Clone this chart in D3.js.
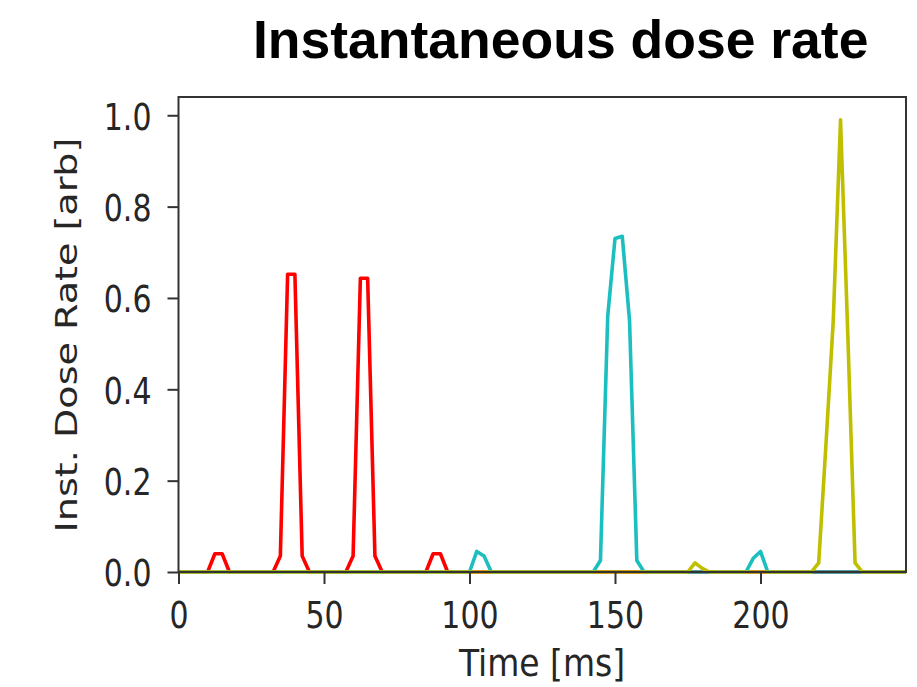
<!DOCTYPE html>
<html>
<head>
<meta charset="utf-8">
<title>Instantaneous dose rate</title>
<script src="https://cdn.jsdelivr.net/npm/d3@7"></script>
<style>
  body { margin: 0; background: white; }
  svg { display: block; }
  .tick text { font-family: "DejaVu Sans", sans-serif; fill: #262626; }
  .tick line { stroke: #333; stroke-width: 2; }
  .domain { display: none; }
</style>
</head>
<body>
<div id="chart"></div>
<script>
// values (time in ms, dose in arb. units)
var redTime  = [0, 10, 12.5, 15, 17.5, 32.5, 35, 37.5, 40, 42.5, 45, 57.5, 60, 62.5, 65, 67.5, 70, 85, 87.5, 90, 92.5, 250];
var redDose  = [0, 0, 0.04, 0.04, 0, 0, 0.035, 0.652, 0.652, 0.035, 0, 0, 0.035, 0.643, 0.643, 0.035, 0, 0, 0.04, 0.04, 0, 0];

var cyanTime = [0, 100, 102.5, 105, 107.5, 142.5, 145, 147.5, 150, 152.5, 155, 157.5, 160, 195, 197.5, 200, 202.5, 250];
var cyanDose = [0, 0, 0.045, 0.035, 0, 0, 0.025, 0.56, 0.73, 0.735, 0.55, 0.025, 0, 0, 0.03, 0.045, 0, 0];

var yellowTime = [0, 175, 177.5, 180, 182.5, 217.5, 220, 222.5, 225, 227.5, 230, 232.5, 235, 250];
var yellowDose = [0, 0, 0.02, 0.008, 0, 0, 0.02, 0.28, 0.55, 0.99, 0.52, 0.02, 0, 0];

var xTicks = [0, 50, 100, 150, 200];
var yTicks = [0, 0.2, 0.4, 0.6, 0.8, 1.0];

function draw() {
  var W = 917, H = 687;
  var pLeft = 178.5, pRight = 906, pTop = 97, pBottom = 572;
  var stretch = 1.27;   // the source picture is squashed sideways

  var svg = d3.select('#chart').append('svg')
      .attr('width', W)
      .attr('height', H);

  var x = d3.scaleLinear().domain([0, 250]).range([pLeft, pRight]);
  var y = d3.scaleLinear().domain([0, 1.04]).range([pBottom, pTop]);

  svg.append('text')
      .attr('x', 253)
      .attr('y', 58)
      .style('font-family', '"Liberation Sans", Arial, sans-serif')
      .style('font-weight', 'bold')
      .style('font-size', '53.5px')
      .style('fill', '#000')
      .text('Instantaneous dose rate');

  svg.append('clipPath').attr('id', 'plot')
    .append('rect')
      .attr('x', pLeft).attr('y', pTop - 2)
      .attr('width', pRight - pLeft).attr('height', pBottom - pTop + 4);

  var line = d3.line()
      .x(function(d) { return x(d[0]); })
      .y(function(d) { return y(d[1]); });

  var series = [
    { t: redTime, v: redDose, color: '#ff0000' },
    { t: cyanTime, v: cyanDose, color: '#1cbfbf' },
    { t: yellowTime, v: yellowDose, color: '#bfbf00' }
  ];

  svg.append('g').attr('clip-path', 'url(#plot)')
    .selectAll('path')
    .data(series)
    .enter().append('path')
      .attr('d', function(s) { return line(d3.zip(s.t, s.v)); })
      .attr('fill', 'none')
      .attr('stroke', function(s) { return s.color; })
      .attr('stroke-width', 3.6)
      .attr('stroke-linejoin', 'round');

  // frame
  svg.append('rect')
      .attr('x', pLeft).attr('y', pTop)
      .attr('width', pRight - pLeft).attr('height', pBottom - pTop)
      .attr('fill', 'none')
      .attr('stroke', '#333')
      .attr('stroke-width', 2);

  var yAxis = svg.append('g')
      .attr('transform', 'translate(' + pLeft + ',0)')
      .call(d3.axisLeft(y).tickValues(yTicks).tickSize(11).tickPadding(16).tickFormat(d3.format('.1f')));
  yAxis.selectAll('.tick text')
      .style('font-size', '30px')
      .attr('dy', '0.36em')
      .attr('transform', 'scale(1,' + stretch + ')');

  var xAxis = svg.append('g')
      .attr('transform', 'translate(0,' + pBottom + ')')
      .call(d3.axisBottom(x).tickValues(xTicks).tickSize(12).tickFormat(d3.format('d')));
  xAxis.selectAll('.tick text')
      .style('font-size', '30px')
      .attr('y', 56 / stretch)
      .attr('dy', 0)
      .attr('transform', 'scale(1,' + stretch + ')');

  svg.append('text')
      .attr('transform', 'translate(542,676) scale(1,1.12)')
      .attr('text-anchor', 'middle')
      .style('font-family', '"DejaVu Sans", sans-serif')
      .style('font-size', '33px')
      .style('fill', '#262626')
      .text('Time [ms]');

  svg.append('text')
      .attr('transform', 'translate(77,335) rotate(-90) scale(' + stretch + ',1)')
      .attr('text-anchor', 'middle')
      .style('font-family', '"DejaVu Sans", sans-serif')
      .style('font-size', '30px')
      .style('fill', '#262626')
      .text('Inst. Dose Rate [arb]');
}

draw();
</script>
</body>
</html>
